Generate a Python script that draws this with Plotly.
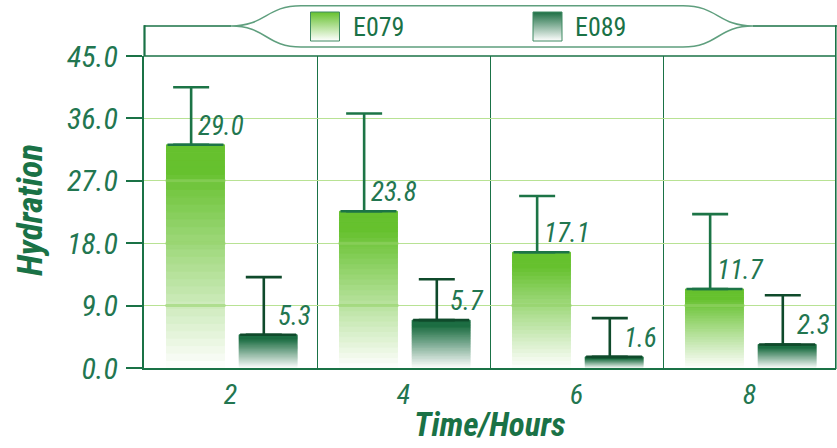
import plotly.graph_objects as go

# ---------------- data ----------------
categories = ["2", "4", "6", "8"]
series_names = ["E079", "E089"]
e079_values = [32.2, 22.6, 16.7, 11.4]
e089_values = [4.8, 6.9, 1.6, 3.4]
e079_errors = [8.3, 14.1, 8.1, 10.8]
e089_errors = [8.3, 5.9, 5.6, 7.1]
e079_labels = ["29.0", "23.8", "17.1", "11.7"]
e089_labels = ["5.3", "5.7", "1.6", "2.3"]
y_ticks = [0, 9, 18, 27, 36, 45]

# ---------------- style ----------------
FONT = "Liberation Sans Narrow, Roboto Condensed, Open Sans, sans-serif"
FRAME = "#1a7246"
TEXT = "#227650"
GRID = "#b8e294"
TOP_COL = {"E079": (102, 193, 46), "E089": (29, 110, 67)}
ERR_COL = {"E079": "#1c7446", "E089": "#0f4a2b"}
CAP_COL = {"E079": "#1c7446", "E089": "#0f4a2b"}
BAND_COL = "rgba(150,212,105,0.55)"
BAR_W = 0.335
BAR_OFF = {"E079": -0.37, "E089": 0.05}
ERR_SHIFT = -0.025
N_SLICES = 30

W, H = 837, 448
ML, MR, MT, MB = 144, 1, 0, 80
PW, PH = W - ML - MR, H - MT - MB
Y_TOP_PX = 56  # pixel row of the 45.0 line


def px(x):
    return (x - ML) / PW


def py(y):
    return (PH - (y - MT)) / PH


def mix(c, f):
    r, g, b = (round(255 + (ci - 255) * f) for ci in c)
    return f"rgb({r},{g},{b})"


fig = go.Figure()

data = {
    "E079": (e079_values, e079_errors, e079_labels),
    "E089": (e089_values, e089_errors, e089_labels),
}

for name in series_names:
    vals, errs, labels = data[name]
    # gradient bar, drawn as stacked slices from the bottom (white) to the top (full colour)
    for k in range(N_SLICES):
        t = (k + 0.5) / N_SLICES
        f = min(1.0, t / 0.88)
        col = mix(TOP_COL[name], f)
        fig.add_trace(go.Bar(
            x=categories,
            y=[v / N_SLICES for v in vals],
            base=[v * k / N_SLICES for v in vals],
            width=BAR_W, offset=BAR_OFF[name],
            marker=dict(color=col, line=dict(width=1, color=col)),
            showlegend=False, hoverinfo="skip",
        ))
    # dark line on top of each bar
    fig.add_trace(go.Bar(
        x=categories, y=vals, width=BAR_W, offset=BAR_OFF[name],
        marker=dict(color="rgba(0,0,0,0)", line=dict(width=0)),
        error_y=dict(type="data", array=[0] * len(vals), visible=True,
                     color=CAP_COL[name], thickness=2.6, width=28),
        showlegend=False, hoverinfo="skip",
    ))
    # upper error bars
    fig.add_trace(go.Bar(
        x=categories, y=vals, width=0.01,
        offset=BAR_OFF[name] + BAR_W / 2 + ERR_SHIFT - 0.005,
        marker=dict(color="rgba(0,0,0,0)", line=dict(width=0)),
        error_y=dict(type="data", symmetric=False, array=errs,
                     arrayminus=[0] * len(errs), visible=True,
                     color=ERR_COL[name], thickness=2.6, width=18),
        name=name, showlegend=False,
    ))

annotations = []
for name in series_names:
    vals, errs, labels = data[name]
    for i, (v, lab) in enumerate(zip(vals, labels)):
        annotations.append(dict(
            x=i + BAR_OFF[name] + BAR_W, y=v, xref="x", yref="y",
            text=lab, showarrow=False, xanchor="center", yanchor="middle",
            xshift=-3, yshift=19,
            font=dict(family=FONT, size=27, color=TEXT, style="italic"),
        ))

# axis titles
annotations.append(dict(
    x=px(30), y=py(210), xref="paper", yref="paper", text="<b>Hydration</b>",
    textangle=-90, showarrow=False, xanchor="center", yanchor="middle",
    font=dict(family=FONT, size=35, color=FRAME, style="italic"),
))
annotations.append(dict(
    x=px(490), y=py(424), xref="paper", yref="paper", text="<b>Time/Hours</b>",
    showarrow=False, xanchor="center", yanchor="middle",
    font=dict(family=FONT, size=33, color=FRAME, style="italic"),
))

# legend texts
legend_swatch_x = [325, 547.5]
legend_text_x = [351, 573]
LEG_Y = 26.5
for name, tx in zip(series_names, legend_text_x):
    annotations.append(dict(
        x=px(tx), y=py(LEG_Y), xref="paper", yref="paper", text=name,
        showarrow=False, xanchor="left", yanchor="middle",
        font=dict(family=FONT, size=26, color=FRAME),
    ))

# legend swatches (gradient squares)
for name, sx in zip(series_names, legend_swatch_x):
    fig.add_trace(go.Scatter(
        x=[sx], y=[LEG_Y], xaxis="x2", yaxis="y2", mode="markers",
        marker=dict(symbol="square", size=29, color=mix(TOP_COL[name], 1.0),
                    gradient=dict(type="vertical", color="white"),
                    line=dict(color="#3f8a62", width=1)),
        showlegend=False, hoverinfo="skip", cliponaxis=False,
    ))

bottle = (
    f"M {px(231)},{py(26)} "
    f"C {px(266)},{py(26)} {px(266)},{py(5.7)} {px(301)},{py(5.7)} "
    f"L {px(683)},{py(5.7)} "
    f"C {px(718)},{py(5.7)} {px(718)},{py(26)} {px(753)},{py(26)} "
    f"C {px(718)},{py(26)} {px(718)},{py(47)} {px(683)},{py(47)} "
    f"L {px(301)},{py(47)} "
    f"C {px(266)},{py(47)} {px(266)},{py(26)} {px(231)},{py(26)} Z"
)
shapes = [
    dict(type="path", path=bottle, xref="paper", yref="paper",
         line=dict(color="#5f9f7e", width=1.5), fillcolor="white", layer="below"),
    dict(type="line", xref="paper", yref="paper", x0=px(144), x1=px(231),
         y0=py(26), y1=py(26), line=dict(color=FRAME, width=1.6)),
    dict(type="line", xref="paper", yref="paper", x0=px(753), x1=px(837),
         y0=py(26), y1=py(26), line=dict(color=FRAME, width=1.6)),
    dict(type="line", xref="paper", yref="paper", x0=px(144.5), x1=px(144.5),
         y0=py(25.2), y1=py(Y_TOP_PX), line=dict(color=FRAME, width=2.2)),
    dict(type="line", xref="paper", yref="paper", x0=px(835.8), x1=px(835.8),
         y0=py(25.2), y1=py(369), line=dict(color=FRAME, width=1.6)),
    dict(type="line", xref="paper", yref="paper", x0=px(144), x1=px(836),
         y0=py(Y_TOP_PX), y1=py(Y_TOP_PX), line=dict(color=FRAME, width=1.6)),
]

# light grid bands showing through the light-green bars
for i, v in enumerate(e079_values):
    for g in y_ticks[1:-1]:
        if g < v - 0.5:
            shapes.append(dict(
                type="line", xref="x", yref="y", layer="above",
                x0=i + BAR_OFF["E079"] - 0.006, x1=i + BAR_OFF["E079"] + BAR_W + 0.006,
                y0=g, y1=g, line=dict(color=BAND_COL, width=3),
            ))

fig.update_layout(
    width=W, height=H,
    margin=dict(l=ML, r=MR, t=MT, b=MB, pad=0, autoexpand=False),
    paper_bgcolor="white", plot_bgcolor="rgba(0,0,0,0)",
    barmode="overlay",
    showlegend=False,
    font=dict(family=FONT, color=TEXT),
    xaxis=dict(
        type="category", categoryorder="array", categoryarray=categories,
        range=[-0.5, len(categories) - 0.5],
        tickson="boundaries", ticks="", showgrid=True, gridcolor=FRAME, gridwidth=1,
        showline=True, linecolor=FRAME, linewidth=2.4, zeroline=False,
        tickfont=dict(family=FONT, size=28, color=TEXT, style="italic"),
        ticklabelstandoff=0, fixedrange=True,
    ),
    yaxis=dict(
        domain=[0, py(Y_TOP_PX)], range=[0, 45],
        tickvals=y_ticks, tickformat=".1f",
        ticks="outside", ticklen=16, tickwidth=2.4, tickcolor=FRAME,
        showgrid=True, gridcolor=GRID, gridwidth=1.2,
        showline=True, linecolor=FRAME, linewidth=2.4, zeroline=False,
        tickfont=dict(family=FONT, size=30, color=TEXT, style="italic"),
        ticklabelstandoff=2, fixedrange=True,
    ),
    xaxis2=dict(domain=[0, 1], range=[ML, W - MR], visible=False, anchor="y2",
                fixedrange=True),
    yaxis2=dict(domain=[0, 1], range=[H - MB, MT], visible=False, anchor="x2",
                fixedrange=True),
    annotations=annotations,
    shapes=shapes,
)

fig.write_html("out.html", config={"displayModeBar": False},
               post_script="document.body.style.margin='0';")
